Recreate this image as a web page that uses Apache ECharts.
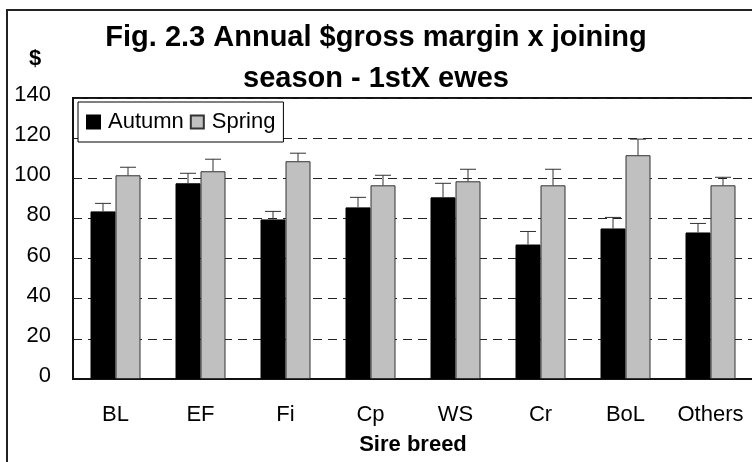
<!DOCTYPE html>
<html lang="en">
<head>
    <meta charset="utf-8">
    <title>Fig. 2.3</title>
    <script src="https://cdn.jsdelivr.net/npm/echarts@6/dist/echarts.min.js"></script>
    <style>
        html, body { margin: 0; padding: 0; background: #fff; }
    </style>
</head>
<body>
<div id="chart" style="width: 752px;height:462px;"></div>

<script>
    // sire breeds and the two joining seasons
    let breeds = ['BL', 'EF', 'Fi', 'Cp', 'WS', 'Cr', 'BoL', 'Others'];
    let autumn = [83.5, 97.5, 79.5, 85.5, 90.5, 67, 75, 73];
    let spring = [101.5, 103.5, 108.5, 96.5, 98.5, 96.5, 111.5, 96.5];
    // upper error bar sizes ($)
    let autumnErr = [4, 5, 4, 5, 7, 6.5, 5.5, 4.5];
    let springErr = [4, 6, 4, 5, 6, 8, 8, 4];
    let yTicks = [0, 20, 40, 60, 80, 100, 120, 140];

    let font = '"Liberation Sans", Arial, sans-serif';
    let myChart = echarts.init(document.getElementById('chart'));

    function errData(vals, errs) {
        let out = [];
        for (let i = 0; i < vals.length; i++) {
            out.push([i, vals[i] + errs[i], vals[i]]);
        }
        return out;
    }

    function errRender(offset) {
        return function (params, api) {
            let top = api.coord([api.value(0), api.value(1)]);
            let base = api.coord([api.value(0), api.value(2)]);
            let x = top[0] + offset;
            return {
                type: 'group',
                children: [
                    {type: 'line', shape: {x1: x, y1: base[1], x2: x, y2: top[1]}, style: {stroke: '#333', lineWidth: 1}},
                    {type: 'line', shape: {x1: x - 8, y1: top[1], x2: x + 8, y2: top[1]}, style: {stroke: '#333', lineWidth: 1}}
                ]
            };
        };
    }

    let option = {
        animation: false,
        backgroundColor: '#fff',
        textStyle: {fontFamily: font, color: '#000'},
        title: {
            text: 'Fig. 2.3 Annual $gross margin x joining\nseason - 1stX ewes',
            left: 'center',
            top: 17,
            padding: 0,
            textStyle: {fontFamily: font, fontSize: 29, fontWeight: 'bold', lineHeight: 41, color: '#000'}
        },
        graphic: [
            {type: 'rect', shape: {x: 7, y: 10, width: 800, height: 500}, style: {fill: 'none', stroke: '#222', lineWidth: 2}, z: 0},
            {type: 'text', x: 35, y: 59, style: {text: '$', fontFamily: font, fontSize: 22, fontWeight: 'bold', fill: '#000', textAlign: 'center', textVerticalAlign: 'middle'}}
        ],
        legend: {
            data: ['Autumn', 'Spring'],
            left: 78,
            top: 102,
            padding: [9, 8, 9, 8],
            icon: 'rect',
            itemWidth: 13,
            itemHeight: 13,
            itemGap: 6,
            backgroundColor: '#fff',
            borderColor: '#000',
            borderWidth: 1,
            borderRadius: 0,
            textStyle: {fontFamily: font, fontSize: 22, color: '#000', padding: [0, 0, 0, 3]},
            z: 10
        },
        grid: {
            left: 73,
            top: 98,
            right: -1,
            bottom: 83,
            containLabel: false,
            outerBoundsMode: 'none',
            show: true,
            borderColor: '#111',
            borderWidth: 2
        },
        xAxis: {
            type: 'category',
            data: breeds,
            name: 'Sire breed',
            nameLocation: 'middle',
            nameGap: 55,
            nameTextStyle: {fontFamily: font, fontSize: 22, fontWeight: 'bold', color: '#000'},
            axisLine: {lineStyle: {color: '#111', width: 2}},
            axisTick: {show: false},
            axisLabel: {fontFamily: font, fontSize: 22, color: '#000', margin: 25, interval: 0}
        },
        yAxis: {
            type: 'value',
            min: yTicks[0],
            max: yTicks[yTicks.length - 1],
            interval: 20,
            axisLine: {show: true, lineStyle: {color: '#111', width: 2}},
            axisTick: {show: false},
            axisLabel: {fontFamily: font, fontSize: 22, color: '#000', margin: 22, verticalAlign: 'bottom', lineHeight: 6},
            splitLine: {lineStyle: {color: '#222', width: 1, type: [9, 6]}}
        },
        series: [
            {
                name: 'Autumn',
                type: 'bar',
                data: autumn,
                barWidth: 25,
                barGap: '0%',
                itemStyle: {color: '#000', borderColor: '#000', borderWidth: 1}
            },
            {
                name: 'Spring',
                type: 'bar',
                data: spring,
                barWidth: 25,
                itemStyle: {color: '#c0c0c0', borderColor: '#333', borderWidth: 1}
            },
            {
                type: 'custom',
                data: errData(autumn, autumnErr),
                renderItem: errRender(-12.5),
                encode: {x: 0, y: 1},
                z: 5
            },
            {
                type: 'custom',
                data: errData(spring, springErr),
                renderItem: errRender(12.5),
                encode: {x: 0, y: 1},
                z: 5
            }
        ]
    };
    myChart.setOption(option);
</script>
</body>
</html>
